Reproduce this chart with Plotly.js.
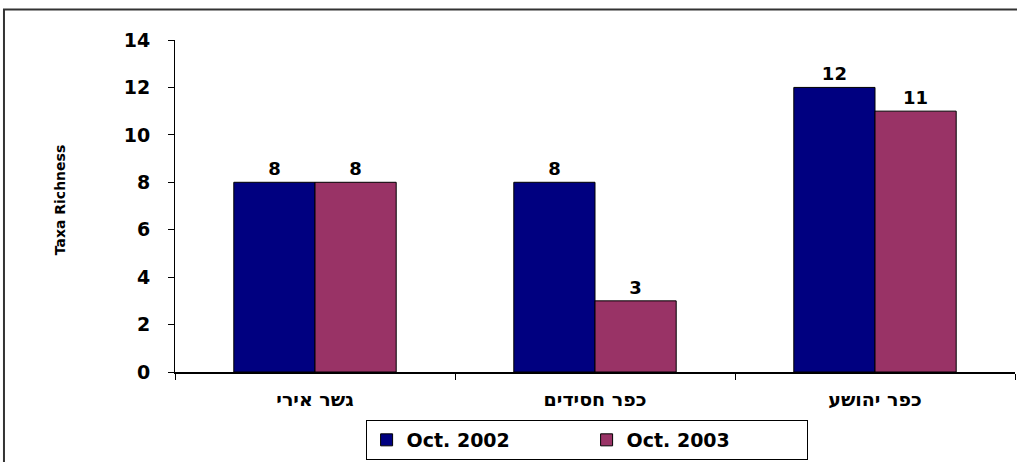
<!DOCTYPE html>
<html>
<head>
<meta charset="utf-8">
<script src="https://cdn.plot.ly/plotly-3.0.1.min.js"></script>
<style>html,body{margin:0;padding:0;background:#fff;}#chart{width:1017px;height:462px;}</style>
</head>
<body>
<div id="chart"></div>
<script>
const categories = ["גשר אירי", "כפר חסידים", "כפר יהושע"];
const oct2002 = [8, 8, 12];
const oct2003 = [8, 3, 11];
const seriesNames = ["Oct. 2002", "Oct. 2003"];
const yTicks = [0, 2, 4, 6, 8, 10, 12, 14];
const yTitle = "Taxa Richness";

const FONT = "DejaVu Sans, Liberation Sans, Arial, sans-serif";
const textFont = {family: FONT, size: 18, color: "#000", weight: "bold"};

function barTrace(name, vals, color) {
  return {
    type: "bar", name: name, x: categories, y: vals,
    marker: {color: color, line: {color: "#000", width: 1}},
    text: vals.map(String), textposition: "outside",
    textfont: textFont, cliponaxis: false, hoverinfo: "none"
  };
}

const data = [
  barTrace(seriesNames[0], oct2002, "#000080"),
  barTrace(seriesNames[1], oct2003, "#993366")
];

const layout = {
  width: 1017, height: 462,
  margin: {l: 175, r: 2, t: 40, b: 90, autoexpand: false},
  paper_bgcolor: "#fff", plot_bgcolor: "#fff",
  barmode: "group", bargap: 0.42, bargroupgap: 0,
  showlegend: true,
  legend: {
    orientation: "h", x: 0.49, xanchor: "center", y: -0.265, yanchor: "bottom",
    bordercolor: "#000", borderwidth: 1, bgcolor: "#fff",
    font: {family: FONT, size: 19, color: "#000", weight: "bold"},
    itemwidth: 30, entrywidth: 175, tracegroupgap: 0
  },
  xaxis: {
    type: "category", showline: true, linecolor: "#000", linewidth: 2,
    ticks: "outside", tickson: "boundaries", ticklen: 6, tickcolor: "#000", tickwidth: 1,
    ticklabelstandoff: 9,
    tickfont: {family: FONT, size: 19, color: "#000", weight: "bold"},
    showgrid: false, zeroline: false, fixedrange: true, automargin: false
  },
  yaxis: {
    range: [0, 14], tickvals: yTicks, ticktext: yTicks.map(String),
    showline: true, linecolor: "#000", linewidth: 1,
    ticks: "outside", ticklen: 6, tickcolor: "#000",
    ticklabelstandoff: 14,
    tickfont: {family: FONT, size: 19, color: "#000", weight: "bold"},
    showgrid: false, zeroline: false, fixedrange: true, automargin: false
  },
  annotations: [{
    text: yTitle, xref: "paper", yref: "paper",
    x: -0.137, y: 0.52, xanchor: "center", yanchor: "middle",
    textangle: -90, showarrow: false,
    font: {family: FONT, size: 14, color: "#000", weight: "bold"}
  }],
  shapes: [{
    type: "rect", xref: "paper", yref: "paper",
    x0: -0.2036, x1: 1.05, y0: -0.4, y1: 1.0919,
    line: {color: "#333", width: 2}, fillcolor: "rgba(0,0,0,0)", layer: "below"
  }]
};

Plotly.newPlot("chart", data, layout, {displayModeBar: false, staticPlot: true});
</script>
</body>
</html>
